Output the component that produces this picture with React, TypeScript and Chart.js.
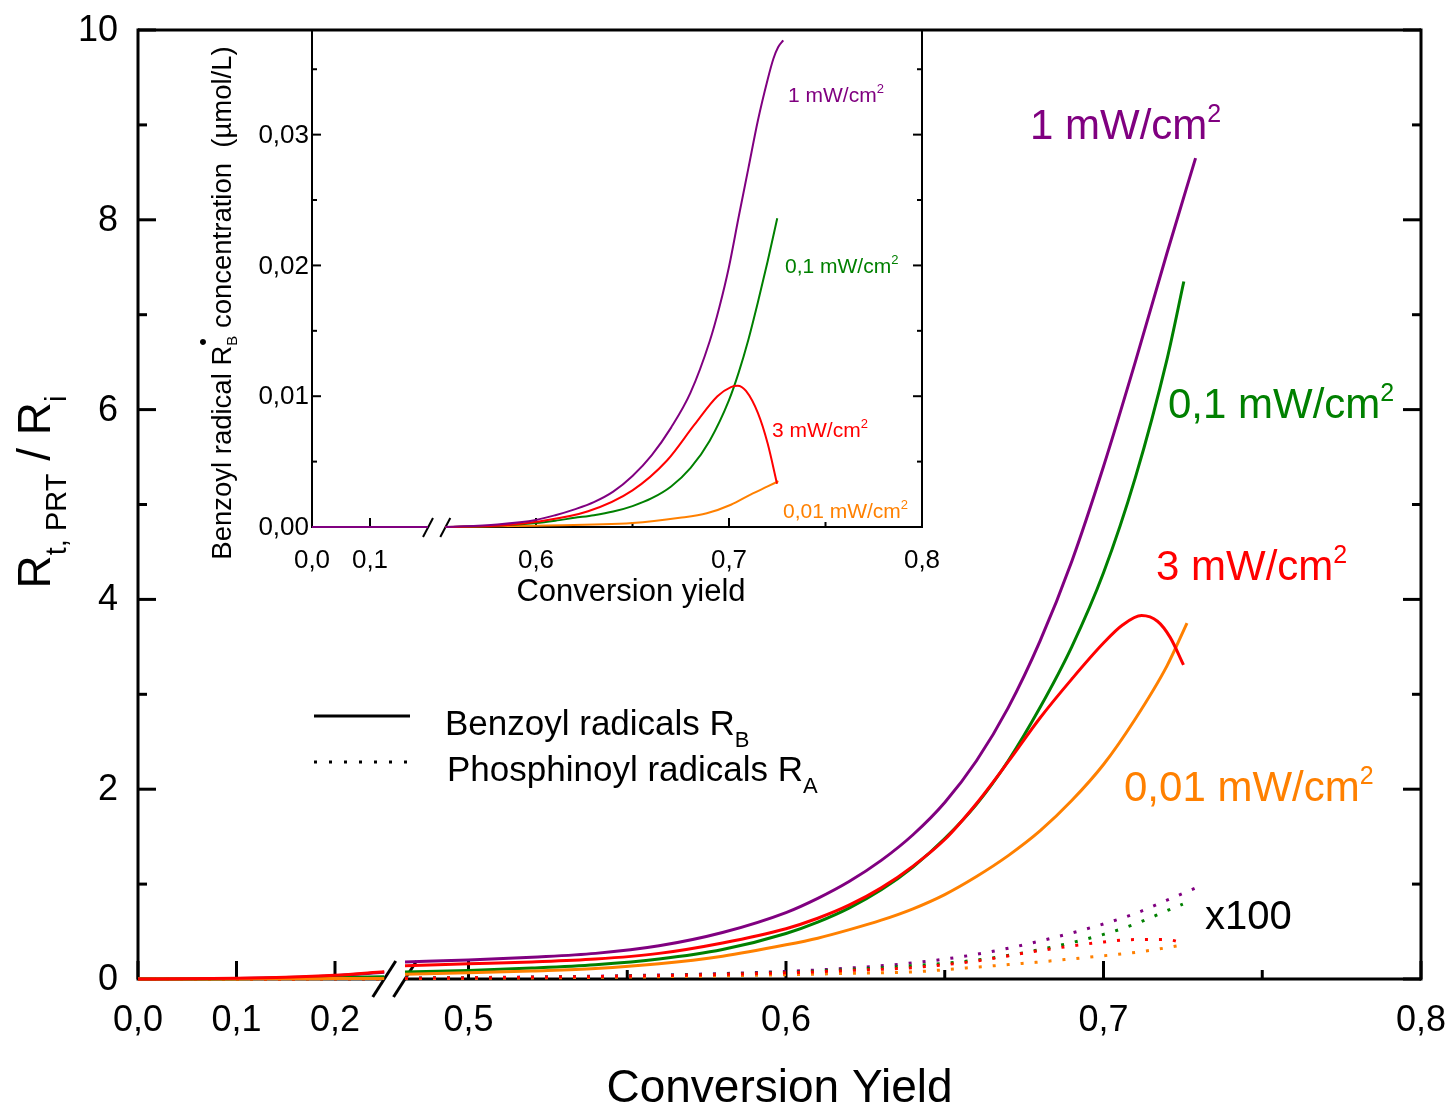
import React, { useEffect, useRef } from "react";
import { Chart, registerables } from "chart.js";

Chart.register(...registerables);

const FONT = '"Liberation Sans", Arial, Helvetica, sans-serif';
const PURPLE = "#800080";
const GREEN = "#008000";
const RED = "#FF0000";
const ORANGE = "#FF8000";

// ---------------- main chart: Rt,PRT / Ri versus conversion yield ----------------
const mainSeg1X = [0, 0.05, 0.1, 0.15, 0.2, 0.25];
const benzoylPurple1 = [0, 0.002, 0.006, 0.015, 0.035, 0.07];
const benzoylGreen1 = [0, 0.001, 0.003, 0.007, 0.014, 0.025];
const benzoylRed1 = [0, 0.002, 0.007, 0.018, 0.04, 0.077];
const benzoylOrange1 = [0, 0, 0.001, 0.002, 0.004, 0.006];

const purpleX2 = [0.48, 0.5, 0.52, 0.54, 0.56, 0.58, 0.6, 0.61, 0.62, 0.63, 0.64, 0.65, 0.66, 0.67, 0.68, 0.69, 0.7, 0.71, 0.72, 0.729];
const benzoylPurple2 = [0.18, 0.2, 0.23, 0.27, 0.35, 0.49, 0.7, 0.85, 1.03, 1.25, 1.52, 1.86, 2.3, 2.86, 3.56, 4.4, 5.4, 6.5, 7.65, 8.65];
const greenX2 = [0.48, 0.5, 0.52, 0.54, 0.56, 0.58, 0.6, 0.61, 0.62, 0.63, 0.64, 0.65, 0.66, 0.67, 0.68, 0.69, 0.7, 0.71, 0.72, 0.7253];
const benzoylGreen2 = [0.074, 0.09, 0.115, 0.15, 0.21, 0.31, 0.48, 0.6, 0.75, 0.94, 1.18, 1.48, 1.84, 2.3, 2.86, 3.5, 4.28, 5.28, 6.53, 7.35];
const redX2 = [0.48, 0.5, 0.52, 0.54, 0.56, 0.58, 0.6, 0.61, 0.62, 0.63, 0.64, 0.65, 0.66, 0.67, 0.68, 0.69, 0.7, 0.706, 0.712, 0.717, 0.721, 0.7252];
const benzoylRed2 = [0.14, 0.16, 0.18, 0.21, 0.27, 0.38, 0.53, 0.64, 0.78, 0.96, 1.19, 1.47, 1.85, 2.29, 2.75, 3.16, 3.54, 3.73, 3.83, 3.77, 3.6, 3.31];
const orangeX2 = [0.48, 0.5, 0.52, 0.54, 0.56, 0.58, 0.6, 0.61, 0.62, 0.63, 0.64, 0.65, 0.66, 0.67, 0.68, 0.69, 0.7, 0.71, 0.72, 0.7263];
const benzoylOrange2 = [0.05, 0.065, 0.085, 0.11, 0.16, 0.24, 0.36, 0.43, 0.52, 0.62, 0.74, 0.89, 1.08, 1.3, 1.56, 1.88, 2.26, 2.74, 3.3, 3.75];

// phosphinoyl radicals (x100), dotted
const phosSeg1 = [0, 0, 0, 0.001, 0.002, 0.003];
const phosPurpleX2 = [0.48, 0.5, 0.55, 0.6, 0.62, 0.64, 0.66, 0.68, 0.7, 0.71, 0.72, 0.729];
const phosPurple2 = [0.01, 0.015, 0.035, 0.08, 0.115, 0.17, 0.26, 0.4, 0.58, 0.69, 0.83, 0.96];
const phosX2 = [0.48, 0.5, 0.55, 0.6, 0.62, 0.64, 0.66, 0.68, 0.7, 0.71, 0.72, 0.725];
const phosGreen2 = [0.008, 0.012, 0.03, 0.07, 0.1, 0.14, 0.2, 0.31, 0.47, 0.58, 0.72, 0.79];
const phosRed2 = [0.008, 0.012, 0.03, 0.065, 0.09, 0.12, 0.19, 0.3, 0.39, 0.415, 0.415, 0.38];
const phosOrange2 = [0.005, 0.008, 0.02, 0.045, 0.06, 0.075, 0.125, 0.18, 0.245, 0.28, 0.33, 0.36];

const mainYTicks = [0, 2, 4, 6, 8, 10];
const mainXMajor = [0, 0.1, 0.2, 0.5, 0.6, 0.7, 0.8];
const mainXMinor = [0.55, 0.65, 0.75];
const mainBreak = [0.25, 0.48];

// ---------------- inset: benzoyl radical concentration ----------------
const insetSeg1X = [0, 0.05, 0.1, 0.15, 0.2];
const insetZero1 = [0, 0, 0, 0, 0];
const insetPurpleX = [0.553, 0.58, 0.6, 0.61, 0.62, 0.63, 0.64, 0.65, 0.66, 0.67, 0.68, 0.69, 0.695, 0.7, 0.705, 0.71, 0.715, 0.72, 0.723, 0.7255, 0.7281];
const insetPurpleY = [0, 0.0002, 0.00054, 0.0009, 0.00135, 0.0019, 0.0027, 0.0039, 0.0055, 0.0076, 0.01025, 0.0142, 0.0168, 0.0199, 0.0237, 0.0274, 0.0311, 0.0342, 0.0358, 0.0367, 0.0372];
const insetGreenX = [0.553, 0.58, 0.6, 0.61, 0.62, 0.63, 0.64, 0.65, 0.66, 0.67, 0.68, 0.69, 0.7, 0.705, 0.71, 0.715, 0.72, 0.725];
const insetGreenY = [0, 0.0001, 0.0003, 0.00048, 0.0007, 0.0009, 0.00118, 0.0016, 0.0022, 0.0031, 0.0045, 0.0066, 0.0097, 0.0118, 0.0143, 0.0172, 0.0203, 0.0236];
const insetRedX = [0.553, 0.58, 0.6, 0.627, 0.65, 0.668, 0.682, 0.694, 0.701, 0.7045, 0.7088, 0.715, 0.72, 0.7249];
const insetRedY = [0, 0.0001, 0.0004, 0.0012, 0.0028, 0.0051, 0.0078, 0.01, 0.0107, 0.0108, 0.0104, 0.0087, 0.0064, 0.0033];
const insetOrangeX = [0.553, 0.6, 0.65, 0.6745, 0.6885, 0.701, 0.7114, 0.72, 0.7256];
const insetOrangeY = [0, 0.0001, 0.0003, 0.0007, 0.00105, 0.0017, 0.0025, 0.0031, 0.0035];

const insetYTicks = [0, 0.01, 0.02, 0.03];
const insetXMajor = [0, 0.1, 0.6, 0.7, 0.8];
const insetXMinor = [0.65, 0.75];
const insetBreak = [0.2, 0.553];

// ---------------- broken-axis transforms ----------------
const mainU = (x: number) => (x <= 0.3 ? x * 985 : 267 + (x - 0.48) * 3175);
const insetU = (x: number) => (x <= 0.3 ? x * 580 : 224 + (x - 0.6) * 1930);

function broken(x1: number[], y1: number[], x2: number[], y2: number[], tf: (x: number) => number) {
  const a = x1.map((x, i) => ({ x: tf(x), y: y1[i] as number | null }));
  const b = x2.map((x, i) => ({ x: tf(x), y: y2[i] as number | null }));
  const gap = { x: (tf(x1[x1.length - 1]) + tf(x2[0])) / 2, y: null };
  return [...a, gap, ...b];
}

const comma = (v: number, d: number) => v.toFixed(d).replace(".", ",");

type Seg = { t: string; size: number; dy?: number; color?: string; stack?: Seg };

function drawRich(
  ctx: CanvasRenderingContext2D,
  segs: Seg[],
  x: number,
  y: number,
  color: string,
  align: "left" | "center" | "right" = "left",
  rotate = false
) {
  ctx.save();
  ctx.translate(x, y);
  if (rotate) ctx.rotate(-Math.PI / 2);
  ctx.textAlign = "left";
  ctx.textBaseline = "alphabetic";
  const width = (s: Seg) => {
    ctx.font = `${s.size}px ${FONT}`;
    return ctx.measureText(s.t).width;
  };
  const ws = segs.map((s) => (s.stack ? Math.max(width(s), width(s.stack)) : width(s)));
  const total = ws.reduce((p, c) => p + c, 0);
  let cx = align === "center" ? -total / 2 : align === "right" ? -total : 0;
  segs.forEach((s, i) => {
    ctx.font = `${s.size}px ${FONT}`;
    ctx.fillStyle = s.color || color;
    ctx.fillText(s.t, cx, s.dy || 0);
    if (s.stack) {
      ctx.font = `${s.stack.size}px ${FONT}`;
      ctx.fillText(s.stack.t, cx, s.stack.dy || 0);
    }
    cx += ws[i];
  });
  ctx.restore();
}

function seg(ctx: CanvasRenderingContext2D, x1: number, y1: number, x2: number, y2: number) {
  ctx.beginPath();
  ctx.moveTo(x1, y1);
  ctx.lineTo(x2, y2);
  ctx.stroke();
}

const mainDecor = {
  id: "mainDecor",
  beforeDatasetsDraw(chart: any) {
    const { ctx, chartArea: a, scales } = chart;
    const xs = scales.x;
    const ys = scales.y;
    ctx.save();
    ctx.strokeStyle = "#000";
    ctx.lineWidth = 3;
    seg(ctx, a.left, a.top - 1.5, a.left, a.bottom + 1.5);
    seg(ctx, a.right, a.top - 1.5, a.right, a.bottom + 1.5);
    seg(ctx, a.left, a.top, a.right, a.top);
    const b1 = xs.getPixelForValue(mainU(mainBreak[0]));
    const b2 = xs.getPixelForValue(mainU(mainBreak[1]));
    seg(ctx, a.left, a.bottom, b1, a.bottom);
    seg(ctx, b2, a.bottom, a.right, a.bottom);
    for (let v = 0; v <= 10; v++) {
      const py = ys.getPixelForValue(v);
      const len = v % 2 === 0 ? 18 : 9;
      seg(ctx, a.left, py, a.left + len, py);
      seg(ctx, a.right - len, py, a.right, py);
    }
    mainXMajor.forEach((v) => {
      const px = xs.getPixelForValue(mainU(v));
      seg(ctx, px, a.bottom, px, a.bottom - 18);
    });
    mainXMinor.forEach((v) => {
      const px = xs.getPixelForValue(mainU(v));
      seg(ctx, px, a.bottom, px, a.bottom - 9);
    });
    [b1, b2].forEach((c) => seg(ctx, c - 11.5, a.bottom + 18, c + 11.5, a.bottom - 18));
    // legend line samples
    seg(ctx, 314, 716, 410, 716);
    ctx.setLineDash([3, 12]);
    seg(ctx, 314, 762, 410, 762);
    ctx.restore();
  },
  afterDraw(chart: any) {
    const { ctx, chartArea: a, scales } = chart;
    const xs = scales.x;
    const ys = scales.y;
    ctx.save();
    ctx.fillStyle = "#000";
    ctx.font = `36px ${FONT}`;
    ctx.textAlign = "right";
    ctx.textBaseline = "middle";
    mainYTicks.forEach((v) => ctx.fillText(String(v), a.left - 20, ys.getPixelForValue(v) + 1));
    ctx.textAlign = "center";
    ctx.textBaseline = "alphabetic";
    mainXMajor.forEach((v) => ctx.fillText(comma(v, 1), xs.getPixelForValue(mainU(v)), a.bottom + 52));
    ctx.font = `46px ${FONT}`;
    ctx.fillText("Conversion Yield", (a.left + a.right) / 2, a.bottom + 123);
    ctx.restore();

    drawRich(
      ctx,
      [
        { t: "R", size: 46 },
        { t: "t, PRT", size: 29, dy: 16 },
        { t: " / R", size: 46 },
        { t: "i", size: 29, dy: 16 },
      ],
      50,
      492,
      "#000",
      "center",
      true
    );

    drawRich(ctx, [{ t: "Benzoyl radicals R", size: 35 }, { t: "B", size: 22, dy: 12 }], 445, 735, "#000");
    drawRich(ctx, [{ t: "Phosphinoyl radicals R", size: 35 }, { t: "A", size: 22, dy: 12 }], 447, 781, "#000");

    drawRich(ctx, [{ t: "1 mW/cm", size: 42 }, { t: "2", size: 25, dy: -17 }], 1030, 139, PURPLE);
    drawRich(ctx, [{ t: "0,1 mW/cm", size: 42 }, { t: "2", size: 25, dy: -17 }], 1168, 418, GREEN);
    drawRich(ctx, [{ t: "3 mW/cm", size: 42 }, { t: "2", size: 25, dy: -17 }], 1156, 580, RED);
    drawRich(ctx, [{ t: "0,01 mW/cm", size: 42 }, { t: "2", size: 25, dy: -17 }], 1124, 801, ORANGE);
    drawRich(ctx, [{ t: "x100", size: 40 }], 1205, 929, "#000");
  },
};

const insetDecor = {
  id: "insetDecor",
  beforeDatasetsDraw(chart: any) {
    const { ctx, chartArea: a, scales } = chart;
    const xs = scales.x;
    const ys = scales.y;
    ctx.save();
    ctx.strokeStyle = "#000";
    ctx.lineWidth = 2;
    seg(ctx, a.left, a.top, a.left, a.bottom + 1);
    seg(ctx, a.right, a.top, a.right, a.bottom + 1);
    const b1 = xs.getPixelForValue(insetU(insetBreak[0]));
    const b2 = xs.getPixelForValue(insetU(insetBreak[1]));
    seg(ctx, a.left, a.bottom, b1, a.bottom);
    seg(ctx, b2, a.bottom, a.right + 1, a.bottom);
    for (let i = 0; i <= 7; i++) {
      const v = i * 0.005;
      const py = ys.getPixelForValue(v);
      const len = i % 2 === 0 ? 9 : 5;
      seg(ctx, a.left, py, a.left + len, py);
      seg(ctx, a.right - len, py, a.right, py);
    }
    insetXMajor.forEach((v) => {
      const px = xs.getPixelForValue(insetU(v));
      seg(ctx, px, a.bottom, px, a.bottom - 9);
    });
    insetXMinor.forEach((v) => {
      const px = xs.getPixelForValue(insetU(v));
      seg(ctx, px, a.bottom, px, a.bottom - 5);
    });
    [b1, b2].forEach((c) => seg(ctx, c - 5, a.bottom + 10, c + 5, a.bottom - 9));
    ctx.restore();
  },
  afterDraw(chart: any) {
    const { ctx, chartArea: a, scales } = chart;
    const xs = scales.x;
    const ys = scales.y;
    ctx.save();
    ctx.fillStyle = "#000";
    ctx.font = `26px ${FONT}`;
    ctx.textAlign = "right";
    ctx.textBaseline = "middle";
    insetYTicks.forEach((v) => ctx.fillText(comma(v, 2), a.left - 3, ys.getPixelForValue(v) + 1));
    ctx.textAlign = "center";
    ctx.textBaseline = "alphabetic";
    insetXMajor.forEach((v) => ctx.fillText(comma(v, 1), xs.getPixelForValue(insetU(v)), a.bottom + 41));
    ctx.font = `31px ${FONT}`;
    ctx.fillText("Conversion yield", 441, a.bottom + 74);
    ctx.restore();

    drawRich(
      ctx,
      [
        { t: "Benzoyl radical R", size: 27.5 },
        { t: "B", size: 15, dy: 6, stack: { t: "•", size: 22, dy: -21 } },
        { t: " concentration  (µmol/L)", size: 27.5 },
      ],
      41,
      303,
      "#000",
      "center",
      true
    );

    drawRich(ctx, [{ t: "1 mW/cm", size: 21 }, { t: "2", size: 13, dy: -9 }], 598, 102, PURPLE);
    drawRich(ctx, [{ t: "0,1 mW/cm", size: 21 }, { t: "2", size: 13, dy: -9 }], 595, 273, GREEN);
    drawRich(ctx, [{ t: "3 mW/cm", size: 21 }, { t: "2", size: 13, dy: -9 }], 582, 437, RED);
    drawRich(ctx, [{ t: "0,01 mW/cm", size: 21 }, { t: "2", size: 13, dy: -9 }], 593, 518, ORANGE);
  },
};

function lineDs(label: string, data: any[], color: string, width: number, dotted = false) {
  return {
    label,
    data,
    borderColor: color,
    backgroundColor: color,
    borderWidth: width,
    borderDash: dotted ? [3, 11] : [],
    pointRadius: 0,
    fill: false,
    cubicInterpolationMode: "monotone" as const,
    spanGaps: false,
    clip: false as any,
  };
}

function baseOptions(xMax: number, yMax: number, padding: any) {
  return {
    responsive: false,
    animation: false as const,
    devicePixelRatio: 1,
    events: [] as any[],
    layout: { padding },
    plugins: { legend: { display: false }, tooltip: { enabled: false } },
    scales: {
      x: { type: "linear" as const, min: 0, max: xMax, display: false },
      y: { type: "linear" as const, min: 0, max: yMax, display: false },
    },
  };
}

export default function App() {
  const mainRef = useRef<HTMLCanvasElement>(null);
  const insetRef = useRef<HTMLCanvasElement>(null);

  useEffect(() => {
    const main = new Chart(mainRef.current as HTMLCanvasElement, {
      type: "line",
      data: {
        datasets: [
          lineDs("3 mW/cm² RB", broken(mainSeg1X, benzoylRed1, redX2, benzoylRed2, mainU), RED, 3),
          lineDs("0,01 mW/cm² RB", broken(mainSeg1X, benzoylOrange1, orangeX2, benzoylOrange2, mainU), ORANGE, 3),
          lineDs("0,1 mW/cm² RB", broken(mainSeg1X, benzoylGreen1, greenX2, benzoylGreen2, mainU), GREEN, 3),
          lineDs("1 mW/cm² RB", broken(mainSeg1X, benzoylPurple1, purpleX2, benzoylPurple2, mainU), PURPLE, 3),
          lineDs("3 mW/cm² RA", broken(mainSeg1X, phosSeg1, phosX2, phosRed2, mainU), RED, 3, true),
          lineDs("0,01 mW/cm² RA", broken(mainSeg1X, phosSeg1, phosX2, phosOrange2, mainU), ORANGE, 3, true),
          lineDs("0,1 mW/cm² RA", broken(mainSeg1X, phosSeg1, phosX2, phosGreen2, mainU), GREEN, 3, true),
          lineDs("1 mW/cm² RA", broken(mainSeg1X, phosSeg1, phosPurpleX2, phosPurple2, mainU), PURPLE, 3, true),
        ],
      },
      options: baseOptions(1283, 10, { left: 138, top: 30, right: 30, bottom: 130 }) as any,
      plugins: [mainDecor],
    });

    const inset = new Chart(insetRef.current as HTMLCanvasElement, {
      type: "line",
      data: {
        datasets: [
          lineDs("1 mW/cm²", broken(insetSeg1X, insetZero1, insetPurpleX, insetPurpleY, insetU), PURPLE, 2),
          lineDs("3 mW/cm²", broken(insetSeg1X, insetZero1, insetRedX, insetRedY, insetU), RED, 2),
          lineDs("0,1 mW/cm²", broken(insetSeg1X, insetZero1, insetGreenX, insetGreenY, insetU), GREEN, 2),
          lineDs("0,01 mW/cm²", broken(insetSeg1X, insetZero1, insetOrangeX, insetOrangeY, insetU), ORANGE, 2),
        ],
      },
      options: baseOptions(610, 0.038, { left: 122, top: 30, right: 28, bottom: 93 }) as any,
      plugins: [insetDecor],
    });

    return () => {
      main.destroy();
      inset.destroy();
    };
  }, []);

  return (
    <div style={{ position: "absolute", left: 0, top: 0, width: 1451, height: 1109, background: "#fff" }}>
      <canvas
        ref={mainRef}
        width={1451}
        height={1109}
        style={{ position: "absolute", left: 0, top: 0, width: 1451, height: 1109 }}
      />
      <canvas
        ref={insetRef}
        width={760}
        height={620}
        style={{ position: "absolute", left: 190, top: 0, width: 760, height: 620 }}
      />
    </div>
  );
}
